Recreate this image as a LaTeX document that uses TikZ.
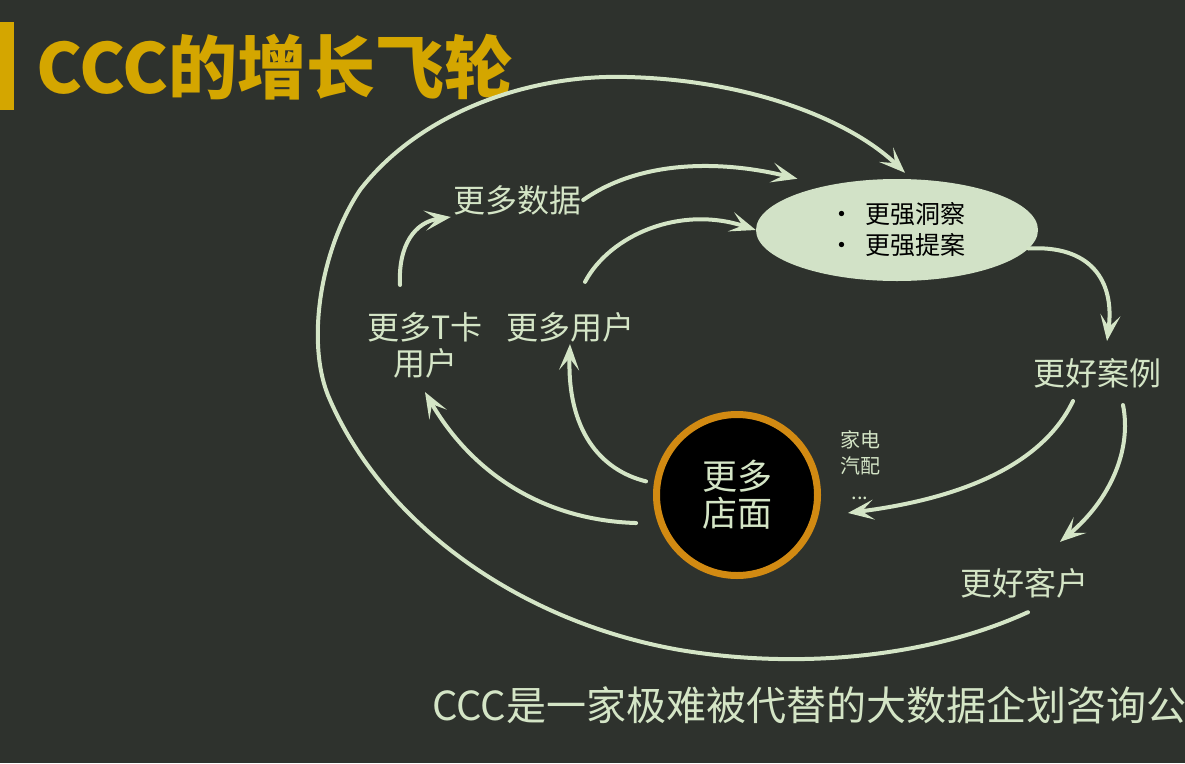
\documentclass[tikz,border=0pt]{standalone}
\usepackage{fontspec}
\newfontfamily\cjk{Noto Sans CJK SC}
\usetikzlibrary{arrows.meta,shapes.geometric}
\definecolor{board}{HTML}{2E322D}
\definecolor{chalkc}{HTML}{D4E5C6}
\definecolor{titlegold}{HTML}{D4A600}
\definecolor{ringorange}{HTML}{D28A12}
\definecolor{bubble}{HTML}{D2E2C7}
\tikzset{
  chalk/.style={draw=chalkc, line width=4pt, line cap=round,
    -{Stealth[length=26pt,width=20pt,inset=12pt]}},
  word/.style={text=chalkc, font=\cjk\fontsize{32}{36}\selectfont,
    align=center, inner sep=2pt},
}
\begin{document}
\begin{tikzpicture}[x=1pt, y=-1pt]
        % ---- board ----
        \useasboundingbox (0,0) rectangle (1185,763);
        \clip (0,0) rectangle (1185,763);
        \fill[board] (0,0) rectangle (1185,763);
        % ---- title ----
        \fill[titlegold] (0,22) rectangle (14,110);
        \node[anchor=west, text=titlegold, inner sep=0,
            font=\cjk\bfseries\fontsize{69}{72}\selectfont] (title) at (36,67) {CCC的增长飞轮};
        % ---- hub and bubble ----
        \node[circle, fill=black, draw=ringorange, line width=7pt, minimum size=161pt,
            inner sep=0, text=chalkc, align=center,
            font=\cjk\fontsize{35}{37}\selectfont] (store) at (737,495) {更多\\店面};
        \node[ellipse, fill=bubble, minimum width=282pt, minimum height=102pt,
            inner sep=0, align=left, font=\cjk\fontsize{25}{31}\selectfont]
            (ins) at (897,230) {\makebox[36pt][l]{•}更强洞察\\\makebox[36pt][l]{•}更强提案};
        % ---- labels ----
        \node[word] (data) at (517,200) {更多数据};
        \node[word] (tcard) at (425,345) {更多T卡\\用户};
        \node[word] (users) at (570,327) {更多用户};
        \node[word] (cases) at (1097,373) {更好案例};
        \node[word] (clients) at (1024,583) {更好客户};
        \node[word, font=\cjk\fontsize{20}{26}\selectfont] (kinds) at (860,465) {家电\\汽配\\...};
        \node[word, anchor=west, inner sep=0, font=\cjk\fontsize{40}{44}\selectfont]
            (motto) at (432,705) {CCC是一家极难被代替的大数据企划咨询公};
        % ---- outer loop ----
        \draw[chalk] ([shift={(4,12)}]clients.south)
            .. controls (930,657) and (800,670) .. (680,650)
            .. controls (520,622) and (385,525) .. (330,400)
            .. controls (305,345) and (320,250) .. (360,190)
            .. controls (420,112) and (530,74) .. (627,77)
            .. controls (750,80) and (850,120) .. ([shift={(8,-6)}]ins.north);
        % ---- inner arrows ----
        \draw[chalk] (data.east) .. controls (640,160) and (720,160) .. ([shift={(0,-15)}]ins.160);
        \draw[chalk] ([shift={(-25,-25)}]tcard.north) .. controls (398,245) and (415,222) .. (data.south west);
        \draw[chalk] ([shift={(15,-28)}]users.north) .. controls (610,235) and (680,205) .. (ins.west);
        \draw[chalk, shorten <=8pt] (store.172) .. controls (600,470) and (567,430) .. (users.south);
        \draw[chalk, shorten <=22pt] (store.200) .. controls (540,520) and (470,470) .. ([shift={(0,12)}]tcard.south);
        % ---- right side ----
        \draw[chalk] (ins.-8) .. controls (1090,245) and (1115,280) .. ([shift={(10,-15)}]cases.north);
        \draw[chalk, shorten >=30pt] ([shift={(-24,11)}]cases.south) .. controls (1040,470) and (950,500) .. (store.-15);
        \draw[chalk] ([shift={(26,15)}]cases.south) .. controls (1132,450) and (1110,500) .. ([shift={(36,-24)}]clients.north);
\end{tikzpicture}
\end{document}
